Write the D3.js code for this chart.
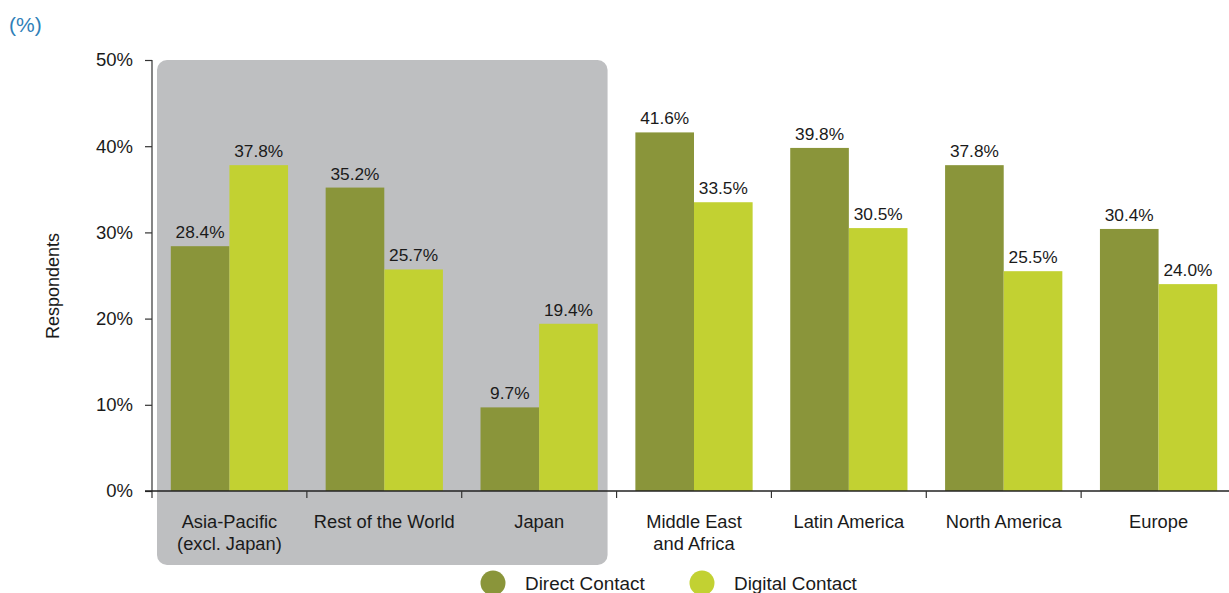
<!DOCTYPE html>
<html>
<head>
<meta charset="utf-8">
<script src="https://cdn.jsdelivr.net/npm/d3@7"></script>
<style>
  html, body { margin: 0; padding: 0; background: #fff; }
  svg { display: block; font-family: "Liberation Sans", Arial, Helvetica, sans-serif; }
</style>
</head>
<body>
<svg id="chart" width="1229" height="593"></svg>
<script>
const categories = [
  ["Asia-Pacific", "(excl. Japan)"],
  ["Rest of the World"],
  ["Japan"],
  ["Middle East", "and Africa"],
  ["Latin America"],
  ["North America"],
  ["Europe"]
];
const seriesNames = ["Direct Contact", "Digital Contact"];
const directValues = [28.4, 35.2, 9.7, 41.6, 39.8, 37.8, 30.4];
const digitalValues = [37.8, 25.7, 19.4, 33.5, 30.5, 25.5, 24.0];
const yTicks = [0, 10, 20, 30, 40, 50];
const highlighted = [0, 1, 2];

(function () {
const colors = ["#8a953a", "#c2d132"];
const svg = d3.select("#chart");

const mLeft = 152, mRight = 1236, mTop = 60, mBottom = 491;
const catIdx = categories.map((d, i) => i);
const x0 = d3.scaleBand().domain(catIdx).range([mLeft, mRight]).padding(0);
const bw = x0.bandwidth();
const x1 = d3.scaleBand().domain([0, 1]).range([18.8, bw - 18.8]).padding(0);
const y = d3.scaleLinear().domain([0, 50]).range([mBottom, mTop]);

// Highlight panel
const hx0 = x0(highlighted[0]) + 5;
const hx1 = x0(highlighted[highlighted.length - 1]) + bw - 9;
svg.append("rect")
  .attr("x", hx0).attr("y", mTop)
  .attr("width", hx1 - hx0).attr("height", 565 - mTop)
  .attr("rx", 10).attr("ry", 10)
  .attr("fill", "#bebfc1");

// Bars
const data = catIdx.map(i => [directValues[i], digitalValues[i]]);
const groups = svg.append("g").selectAll("g").data(data).join("g")
  .attr("transform", (d, i) => `translate(${x0(i)},0)`);
groups.selectAll("rect").data(d => d.map((v, k) => ({v, k}))).join("rect")
  .attr("x", d => x1(d.k))
  .attr("width", x1.bandwidth())
  .attr("y", d => y(d.v))
  .attr("height", d => y(0) - y(d.v))
  .attr("fill", d => colors[d.k]);
groups.selectAll("text").data(d => d.map((v, k) => ({v, k}))).join("text")
  .attr("x", d => x1(d.k) + x1.bandwidth() / 2)
  .attr("y", d => y(d.v) - 8)
  .attr("text-anchor", "middle")
  .attr("font-size", 17.3)
  .attr("fill", "#1a1a1a")
  .text(d => d.v.toFixed(1) + "%");

// Y axis
const yAxis = d3.axisLeft(y).tickValues(yTicks).tickFormat(d => d + "%").tickSize(7).tickPadding(12);
const yg = svg.append("g").attr("transform", `translate(${mLeft},0)`).call(yAxis);
yg.select(".domain").remove();
yg.selectAll(".tick line").attr("stroke", "#333").attr("stroke-width", 1.2);
yg.selectAll(".tick text").attr("font-size", 18.5).attr("fill", "#1a1a1a")
  .attr("font-family", "Liberation Sans, Arial, sans-serif");
svg.append("line").attr("x1", mLeft).attr("x2", mLeft)
  .attr("y1", mTop).attr("y2", mBottom + 7)
  .attr("stroke", "#333").attr("stroke-width", 1.2);

// X axis baseline and ticks
svg.append("line").attr("x1", mLeft - 7).attr("x2", 1229)
  .attr("y1", mBottom).attr("y2", mBottom)
  .attr("stroke", "#222").attr("stroke-width", 1.3);
svg.append("g").selectAll("line").data(catIdx.slice(1)).join("line")
  .attr("x1", i => x0(i)).attr("x2", i => x0(i))
  .attr("y1", mBottom).attr("y2", mBottom + 7)
  .attr("stroke", "#333").attr("stroke-width", 1.2);

// Category labels
const cl = svg.append("g").selectAll("text").data(catIdx).join("text")
  .attr("x", i => x0(i) + bw / 2)
  .attr("y", 528)
  .attr("text-anchor", "middle")
  .attr("font-size", 18.3)
  .attr("fill", "#1a1a1a");
cl.selectAll("tspan").data(i => categories[i]).join("tspan")
  .attr("x", function() { return d3.select(this.parentNode).attr("x"); })
  .attr("dy", (d, j) => j === 0 ? 0 : 22)
  .text(d => d);

// Y title
svg.append("text")
  .attr("transform", "translate(59,286) rotate(-90)")
  .attr("text-anchor", "middle")
  .attr("font-size", 18)
  .attr("fill", "#1a1a1a")
  .text("Respondents");

// Unit label
svg.append("text")
  .attr("x", 9).attr("y", 32)
  .attr("font-size", 21)
  .attr("fill", "#2f7fb8")
  .text("(%)");

// Legend
const legendX = [493, 702];
const lg = svg.append("g").selectAll("g").data(seriesNames).join("g")
  .attr("transform", (d, i) => `translate(${legendX[i]},583)`);
lg.append("circle").attr("r", 12.5).attr("fill", (d, i) => colors[i]);
lg.append("text").attr("x", 32).attr("y", 7)
  .attr("font-size", 18.9).attr("fill", "#1a1a1a")
  .text(d => d);
})();
</script>
</body>
</html>
